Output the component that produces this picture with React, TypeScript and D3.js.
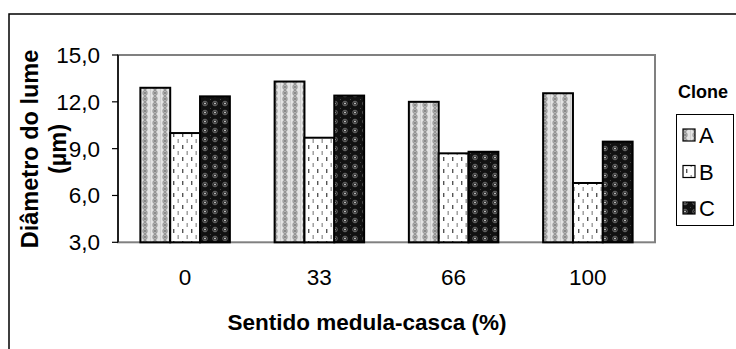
import React from "react";
import * as d3 from "d3";

const categories = ["0", "33", "66", "100"];
const seriesNames = ["A", "B", "C"];
const valuesA = [12.9, 13.3, 12.0, 12.55];
const valuesB = [10.0, 9.7, 8.7, 6.8];
const valuesC = [12.35, 12.4, 8.8, 9.45];
const yTicks = [3, 6, 9, 12, 15];

const W = 736;
const H = 349;
const plot = { left: 118, right: 655, top: 55, bottom: 242.3 };

export default function App() {
  const series = [valuesA, valuesB, valuesC];
  const x0 = d3
    .scaleBand<string>()
    .domain(categories)
    .range([plot.left, plot.right])
    .paddingInner(0)
    .paddingOuter(0);
  const y = d3.scaleLinear().domain([3, 15]).range([plot.bottom, plot.top]);
  const bw = x0.bandwidth() / 4.5;
  const fills = ["url(#patA)", "url(#patB)", "url(#patC)"];
  const fmt = (v: number) => v.toFixed(1).replace(".", ",");

  return (
    <svg
      width={W}
      height={H}
      style={{ position: "absolute", left: 0, top: 0, background: "#fff" }}
      fontFamily="'Liberation Sans', Arial, sans-serif"
    >
      <defs>
        <pattern id="patA" width={10} height={6} patternUnits="userSpaceOnUse">
          <rect width={10} height={6} fill="#e4e4e4" />
          <ellipse cx={5} cy={3} rx={2.2} ry={2.7} fill="#b4b4b4" stroke="#8a8a8a" strokeWidth={0.8} />
          <circle cx={5} cy={3} r={0.8} fill="#555" />
          <rect x={0} y={0} width={1} height={6} fill="#cfcfcf" />
        </pattern>
        <pattern id="patB" width={9} height={12} patternUnits="userSpaceOnUse">
          <rect width={9} height={12} fill="#fff" />
          <rect x={2} y={1} width={1.4} height={4} fill="#555" />
          <rect x={6.5} y={7} width={1.4} height={4} fill="#9a9a9a" />
        </pattern>
        <pattern id="patC" width={10} height={9} patternUnits="userSpaceOnUse">
          <rect width={10} height={9} fill="#111" />
          <circle cx={5} cy={4.5} r={2.3} fill="none" stroke="#6a6a6a" strokeWidth={1} />
          <circle cx={5} cy={4.5} r={0.9} fill="#ddd" />
          <circle cx={0} cy={0} r={0.8} fill="#888" />
        </pattern>
      </defs>

      {/* outer chart frame */}
      <rect x={9} y={14} width={800} height={400} fill="none" stroke="#000" strokeWidth={1.5} />

      {/* plot area border */}
      <rect
        x={plot.left}
        y={plot.top}
        width={plot.right - plot.left}
        height={plot.bottom - plot.top}
        fill="none"
        stroke="#808080"
        strokeWidth={2}
      />

      {/* bars */}
      {categories.map((c, i) => {
        const gx = (x0(c) as number) + (x0.bandwidth() - 3 * bw) / 2;
        return series.map((s, j) => (
          <rect
            key={c + j}
            x={gx + j * bw}
            y={y(s[i])}
            width={bw}
            height={y(3) - y(s[i])}
            fill={fills[j]}
            stroke="#000"
            strokeWidth={2}
          />
        ));
      })}

      {/* y axis */}
      <line x1={plot.left} x2={plot.left} y1={plot.top} y2={plot.bottom} stroke="#000" strokeWidth={1.5} />
      {yTicks.map((t) => (
        <g key={t}>
          <line x1={plot.left - 6} x2={plot.left} y1={y(t)} y2={y(t)} stroke="#000" strokeWidth={1.2} />
          <text x={100} y={y(t) + 8} textAnchor="end" fontSize={22.5} fill="#000">
            {fmt(t)}
          </text>
        </g>
      ))}

      {/* x labels */}
      {categories.map((c) => (
        <text
          key={c}
          x={(x0(c) as number) + x0.bandwidth() / 2}
          y={285}
          textAnchor="middle"
          fontSize={22.5}
          fill="#000"
        >
          {c}
        </text>
      ))}

      {/* axis titles */}
      <text x={367} y={330} textAnchor="middle" fontSize={22.5} fontWeight="bold" fill="#000">
        Sentido medula-casca (%)
      </text>
      <text transform="translate(38,149) rotate(-90)" textAnchor="middle" fontSize={23.5} fontWeight="bold" fill="#000">
        Diâmetro do lume
      </text>
      <text transform="translate(66,149) rotate(-90)" textAnchor="middle" fontSize={23.5} fontWeight="bold" fill="#000">
        (µm)
      </text>

      {/* legend */}
      <text x={678} y={98} fontSize={18} fontWeight="bold" fill="#000">
        Clone
      </text>
      <rect x={676.5} y={114.5} width={57} height={111} fill="#fff" stroke="#000" strokeWidth={1} />
      {seriesNames.map((n, j) => {
        const cy = 135 + j * 36.5;
        return (
          <g key={n}>
            <rect x={683} y={cy - 6} width={12} height={12} fill={fills[j]} stroke="#000" strokeWidth={1.2} />
            <text x={699} y={cy + 8} fontSize={22} fill="#000">
              {n}
            </text>
          </g>
        );
      })}
    </svg>
  );
}
